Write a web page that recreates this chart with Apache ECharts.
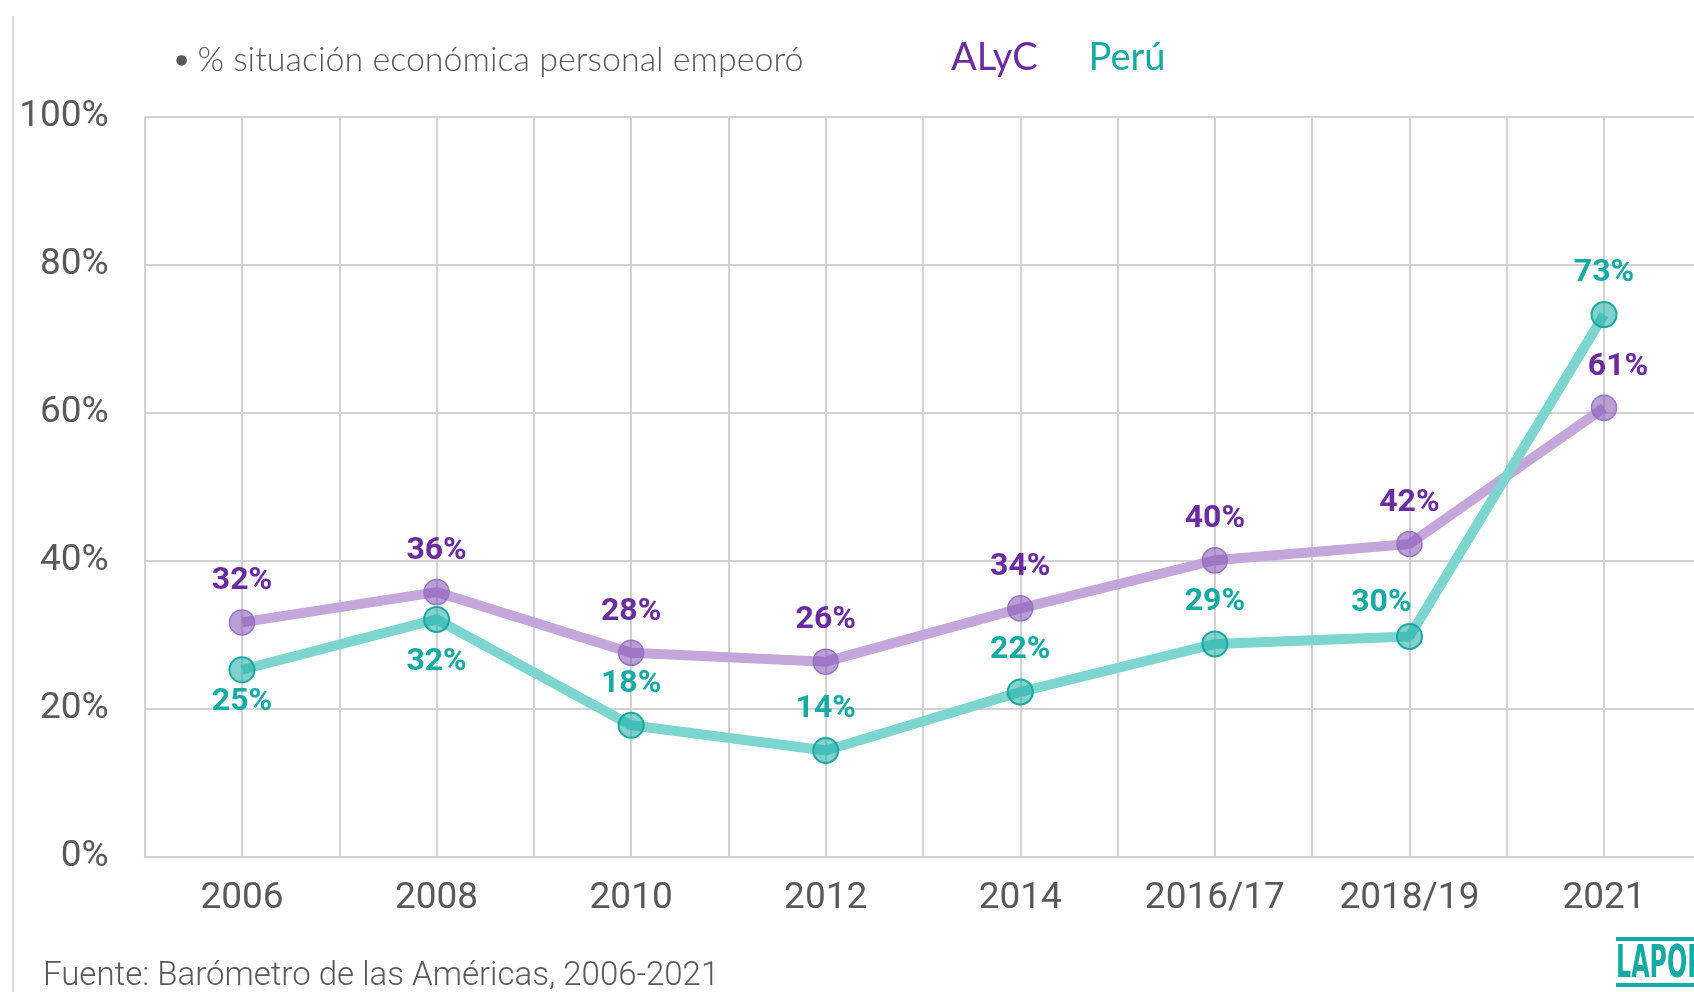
<!DOCTYPE html>
<html>
<head>
<meta charset="utf-8">
<script src="https://cdn.jsdelivr.net/npm/echarts@6/dist/echarts.min.js"></script>
<style>
  html, body { margin: 0; padding: 0; background: #fff; }
  #chart { width: 1694px; height: 992px; }
</style>
</head>
<body>
<div id="chart"></div>
<script>
// datos
var years = ['2006', '2008', '2010', '2012', '2014', '2016/17', '2018/19', '2021'];
var alyc = [31.7, 35.8, 27.6, 26.4, 33.6, 40.1, 42.3, 60.7];
var peru = [25.3, 32.1, 17.8, 14.4, 22.3, 28.8, 29.8, 73.3];
var yTicks = [0, 20, 40, 60, 80, 100];

var purple = '#6a2c9e';
var teal = '#17aaa2';
var gris = '#595959';

function pares(arr) {
  return arr.map(function (v, i) { return [i, v]; });
}

var dataAlyc = pares(alyc);
dataAlyc[7] = { value: dataAlyc[7], label: { offset: [14, 0] } };

var dataPeru = pares(peru);
dataPeru[0] = { value: dataPeru[0], label: { position: 'bottom', distance: 3 } };
dataPeru[1] = { value: dataPeru[1], label: { position: 'bottom', distance: 13 } };
dataPeru[6] = { value: dataPeru[6], label: { offset: [-28, 8] } };

var myChart = echarts.init(document.getElementById('chart'));

var option = {
  backgroundColor: '#fff',
  animation: false,
  title: {
    text: '{dot|●} % situación económica personal empeoró',
    left: 170,
    top: 38,
    textStyle: {
      fontFamily: 'Lato',
      fontSize: 34,
      fontWeight: 300,
      color: gris,
      rich: {
        dot: { fontSize: 22, color: gris, fontFamily: 'Lato' }
      }
    }
  },
  legend: {
    left: 946,
    top: 39,
    padding: 0,
    icon: 'none',
    itemWidth: 0,
    itemGap: 46,
    textStyle: { fontFamily: 'Lato', fontSize: 38 },
    data: [
      { name: 'ALyC', textStyle: { color: purple } },
      { name: 'Perú', textStyle: { color: teal } }
    ]
  },
  grid: {
    left: 144.7,
    width: 1556.6,
    top: 117,
    height: 740,
    outerBoundsMode: 'none'
  },
  xAxis: {
    type: 'value',
    min: -0.5,
    max: 7.5,
    interval: 0.5,
    axisLine: { show: true, lineStyle: { color: '#d2d2d2', width: 2 } },
    axisTick: { show: false },
    splitLine: { show: true, lineStyle: { color: '#d2d2d2', width: 2 } },
    axisLabel: {
      margin: 23,
      fontFamily: 'Roboto',
      fontSize: 37,
      color: gris,
      formatter: function (v) {
        return Number.isInteger(v) ? years[v] : '';
      }
    }
  },
  yAxis: {
    type: 'value',
    min: yTicks[0],
    max: yTicks[yTicks.length - 1],
    interval: 20,
    axisLine: { show: false },
    axisTick: { show: false },
    splitLine: { show: true, lineStyle: { color: '#d2d2d2', width: 2 } },
    axisLabel: {
      margin: 36,
      fontFamily: 'Roboto',
      fontSize: 37,
      color: gris,
      formatter: '{value}%'
    }
  },
  series: [
    {
      name: 'ALyC',
      type: 'line',
      data: dataAlyc,
      symbol: 'circle',
      symbolSize: 25,
      lineStyle: { color: '#c3a7da', width: 10 },
      itemStyle: {
        color: 'rgba(130, 80, 180, 0.55)',
        borderColor: '#9a72c4',
        borderWidth: 1.5
      },
      label: {
        show: true,
        position: 'top',
        distance: 12,
        fontFamily: 'Roboto',
        fontWeight: 'bold',
        fontSize: 32,
        color: purple,
        formatter: function (p) { return Math.round(p.value[1]) + '%'; }
      },
      z: 2
    },
    {
      name: 'Perú',
      type: 'line',
      data: dataPeru,
      symbol: 'circle',
      symbolSize: 25,
      lineStyle: { color: '#7dd5cf', width: 10 },
      itemStyle: {
        color: 'rgba(26, 173, 165, 0.55)',
        borderColor: '#17a9a1',
        borderWidth: 2
      },
      label: {
        show: true,
        position: 'top',
        distance: 12,
        fontFamily: 'Roboto',
        fontWeight: 'bold',
        fontSize: 32,
        color: teal,
        formatter: function (p) { return Math.round(p.value[1]) + '%'; }
      },
      z: 3
    }
  ],
  graphic: [
    // borde izquierdo
    {
      type: 'line',
      shape: { x1: 13, y1: 16, x2: 13, y2: 992 },
      style: { stroke: '#cfcfcf', lineWidth: 1.5 }
    },
    {
      type: 'text',
      left: 43,
      top: 960,
      style: {
        text: 'Fuente: Barómetro de las Américas, 2006-2021',
        fontFamily: 'Roboto',
        fontWeight: 300,
        fontSize: 33,
        fill: gris
      }
    },
    // logo LAPOP
    {
      type: 'rect',
      shape: { x: 1616, y: 937, width: 80, height: 4 },
      style: { fill: teal }
    },
    {
      type: 'text',
      x: 1616,
      y: 944,
      scaleX: 0.54,
      style: {
        text: 'LAPOP',
        fontFamily: 'DejaVu Sans',
        fontWeight: 'bold',
        fontSize: 44,
        fill: teal
      }
    },
    {
      type: 'rect',
      shape: { x: 1616, y: 983, width: 80, height: 4 },
      style: { fill: teal }
    }
  ]
};

myChart.setOption(option);
</script>
</body>
</html>
